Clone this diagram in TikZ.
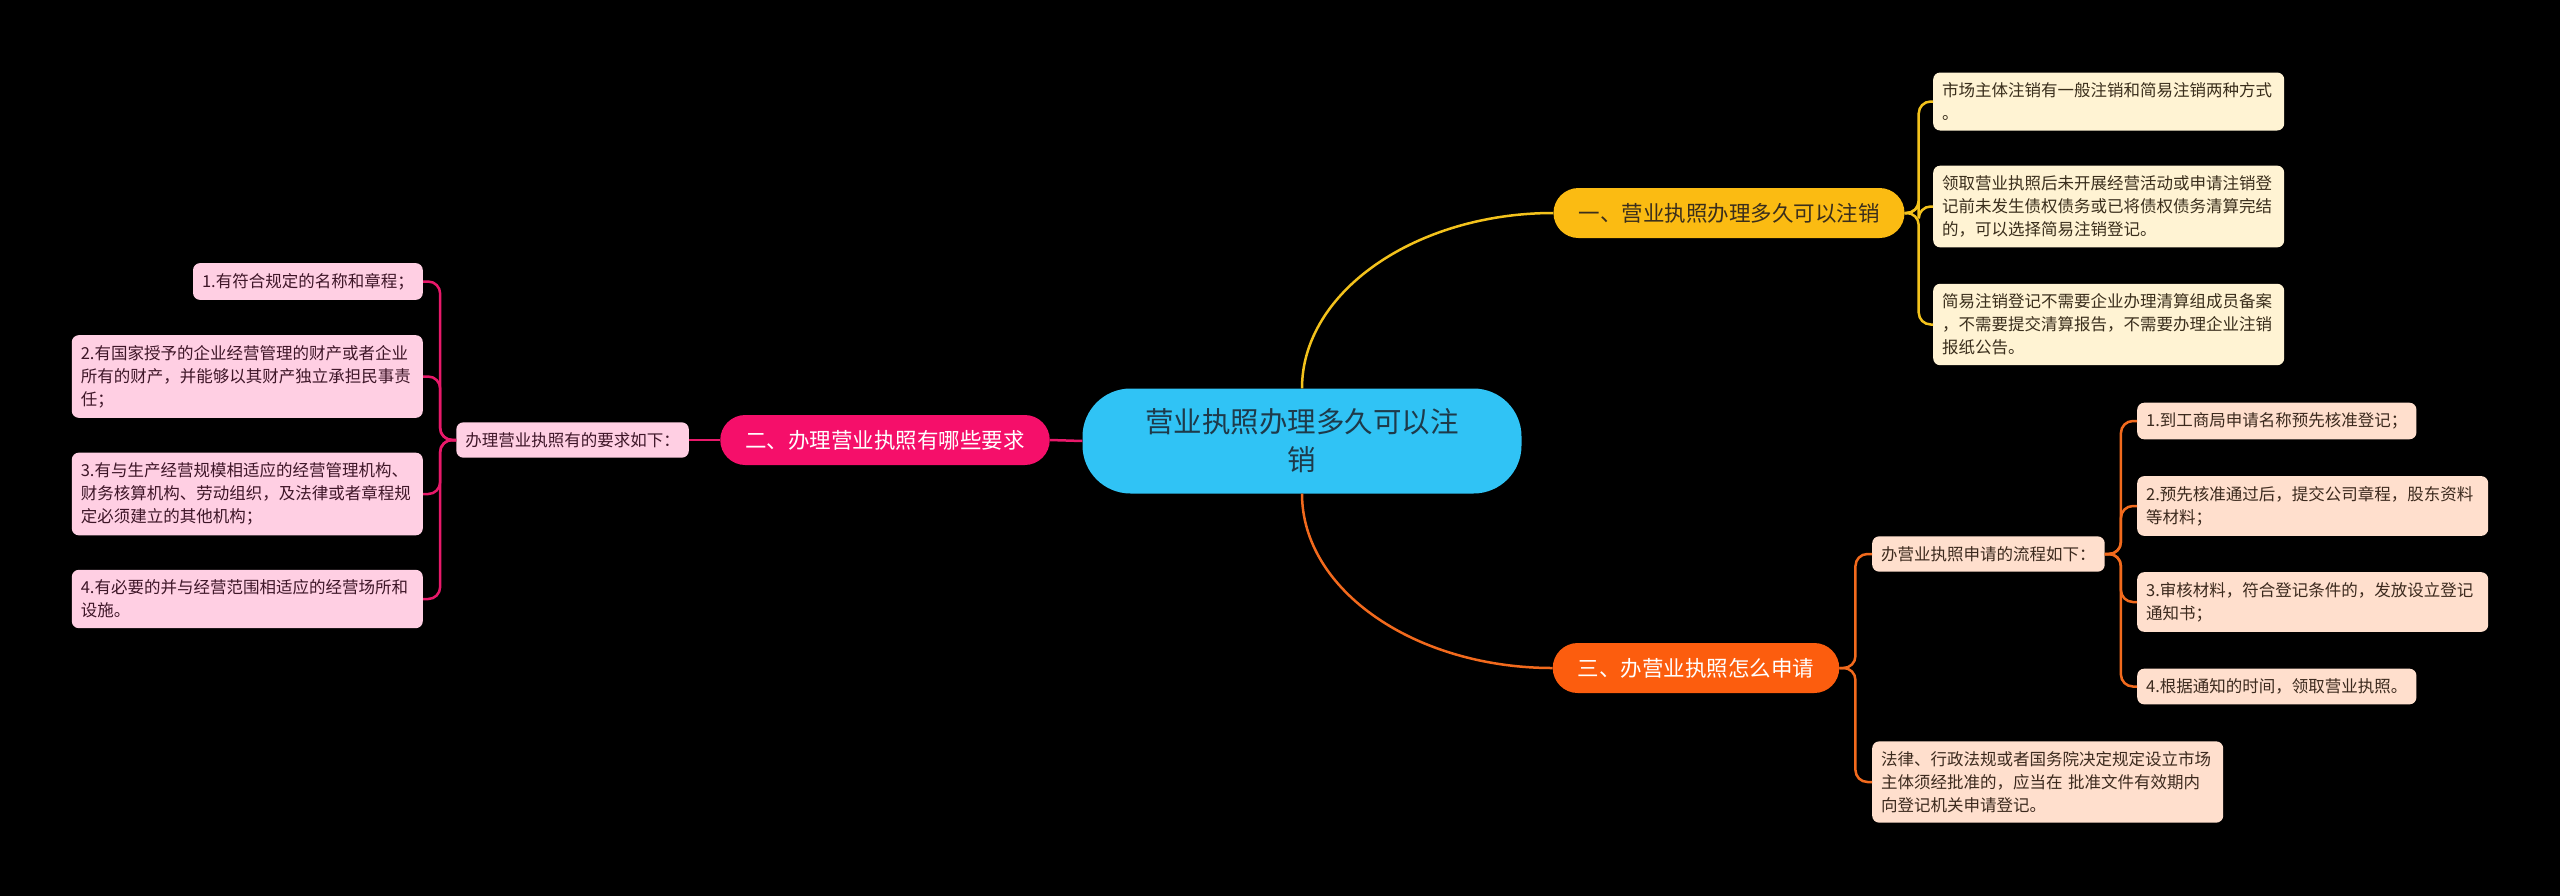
\documentclass[tikz,border=0pt]{standalone}
\usepackage{fontspec}
\setmainfont{Noto Sans CJK SC}
\usepackage{xcolor}
\usepackage{tikz}
\usetikzlibrary{positioning}
\definecolor{rootfill}{HTML}{30C3F5}
\definecolor{roottext}{HTML}{1E3A4A}
\definecolor{yelbranch}{HTML}{FBBB12}
\definecolor{yelleaf}{HTML}{FFF3D3}
\definecolor{yeltext}{HTML}{3A2E1C}
\definecolor{yelline}{HTML}{F3C21C}
\definecolor{pinkbranch}{HTML}{F50F6A}
\definecolor{pinkleaf}{HTML}{FFCFE3}
\definecolor{pinktext}{HTML}{3E1628}
\definecolor{pinkline}{HTML}{E8196A}
\definecolor{orgbranch}{HTML}{FC5D0E}
\definecolor{orgleaf}{HTML}{FFDFCD}
\definecolor{orgtext}{HTML}{3C2A1E}
\definecolor{orgline}{HTML}{F26A1D}

\begin{document}
\begin{tikzpicture}[
    x=1pt, y=-1pt,
    root/.style={rectangle, rounded corners=48pt, minimum width=439pt, minimum height=105pt, fill=rootfill, text=roottext, font=\fontsize{28.5}{38}\selectfont, align=center},
    branch/.style={rectangle, rounded corners=25pt, minimum height=50pt, inner xsep=25pt, font=\fontsize{21.5}{26}\selectfont},
    leaf/.style={rectangle, rounded corners=7pt, inner xsep=9pt, inner ysep=10pt, font=\fontsize{16.5}{23}\selectfont, align=left},
    wide/.style={text width=333pt},
    link/.style={line width=2.5pt, rounded corners=12pt}
]
\useasboundingbox (0,0) rectangle (2560,895);
\fill[black] (-10,-10) rectangle (2570,905);

\node[root] (root) at (1302,441) {营业执照办理多久可以注\\销};
\node[branch, fill=yelbranch, text=yeltext] (sec1) at (1729,213) {一、营业执照办理多久可以注销};
\node[branch, fill=pinkbranch, text=white] (sec2) at (885,440) {二、办理营业执照有哪些要求};
\node[branch, fill=orgbranch, text=white] (sec3) at (1696,668) {三、办营业执照怎么申请};

\node[leaf, wide, fill=yelleaf, text=yeltext, anchor=west] (cancel1) at (1933,101.5) {市场主体注销有一般注销和简易注销两种方式\\。};
\node[leaf, wide, fill=yelleaf, text=yeltext, anchor=west] (cancel2) at (1933,206.5) {领取营业执照后未开展经营活动或申请注销登\\记前未发生债权债务或已将债权债务清算完结\\的，可以选择简易注销登记。};
\node[leaf, wide, fill=yelleaf, text=yeltext, anchor=west] (cancel3) at (1933,324.5) {简易注销登记不需要企业办理清算组成员备案\\，不需要提交清算报告，不需要办理企业注销\\报纸公告。};

\node[leaf, fill=pinkleaf, text=pinktext, left=31pt of sec2] (req) {办理营业执照有的要求如下：};
\node[leaf, fill=pinkleaf, text=pinktext, anchor=east] (req1) at (423,281.5) {1.有符合规定的名称和章程；};
\node[leaf, wide, fill=pinkleaf, text=pinktext, anchor=east] (req2) at (423,376.5) {2.有国家授予的企业经营管理的财产或者企业\\所有的财产，并能够以其财产独立承担民事责\\任；};
\node[leaf, wide, fill=pinkleaf, text=pinktext, anchor=east] (req3) at (423,494) {3.有与生产经营规模相适应的经营管理机构、\\财务核算机构、劳动组织，及法律或者章程规\\定必须建立的其他机构；};
\node[leaf, wide, fill=pinkleaf, text=pinktext, anchor=east] (req4) at (423,599) {4.有必要的并与经营范围相适应的经营场所和\\设施。};

\node[leaf, fill=orgleaf, text=orgtext, anchor=west] (apply) at (1872,554) {办营业执照申请的流程如下：};
\node[leaf, fill=orgleaf, text=orgtext, anchor=west] (step1) at (2137,421) {1.到工商局申请名称预先核准登记；};
\node[leaf, wide, fill=orgleaf, text=orgtext, anchor=west] (step2) at (2137,506) {2.预先核准通过后，提交公司章程，股东资料\\等材料；};
\node[leaf, wide, fill=orgleaf, text=orgtext, anchor=west] (step3) at (2137,602) {3.审核材料，符合登记条件的，发放设立登记\\通知书；};
\node[leaf, fill=orgleaf, text=orgtext, anchor=west] (step4) at (2137,686.5) {4.根据通知的时间，领取营业执照。};
\node[leaf, wide, fill=orgleaf, text=orgtext, anchor=west] (approve) at (1872,782) {法律、行政法规或者国务院决定规定设立市场\\主体须经批准的，应当在 批准文件有效期内\\向登记机关申请登记。};

\draw[link, yelline] (root.north) .. controls +(0,-97) and +(-137,0) .. (sec1.west);
\draw[link, pinkline] (root.west) -- (sec2.east);
\draw[link, orgline] (root.south) .. controls +(0,97) and +(-137,0) .. (sec3.west);

\draw[link, yelline] (sec1.east) -- ++(14,0) |- (cancel1.west);
\draw[link, yelline] (sec1.east) -- ++(14,0) |- (cancel2.west);
\draw[link, yelline] (sec1.east) -- ++(14,0) |- (cancel3.west);

\draw[link, pinkline] (sec2.west) -- (req.east);
\draw[link, pinkline] (req.west) -- ++(-16,0) |- (req1.east);
\draw[link, pinkline] (req.west) -- ++(-16,0) |- (req2.east);
\draw[link, pinkline] (req.west) -- ++(-16,0) |- (req3.east);
\draw[link, pinkline] (req.west) -- ++(-16,0) |- (req4.east);

\draw[link, orgline] (sec3.east) -- ++(16,0) |- (apply.west);
\draw[link, orgline] (sec3.east) -- ++(16,0) |- (approve.west);
\draw[link, orgline] (apply.east) -- ++(16,0) |- (step1.west);
\draw[link, orgline] (apply.east) -- ++(16,0) |- (step2.west);
\draw[link, orgline] (apply.east) -- ++(16,0) |- (step3.west);
\draw[link, orgline] (apply.east) -- ++(16,0) |- (step4.west);
\end{tikzpicture}
\end{document}
